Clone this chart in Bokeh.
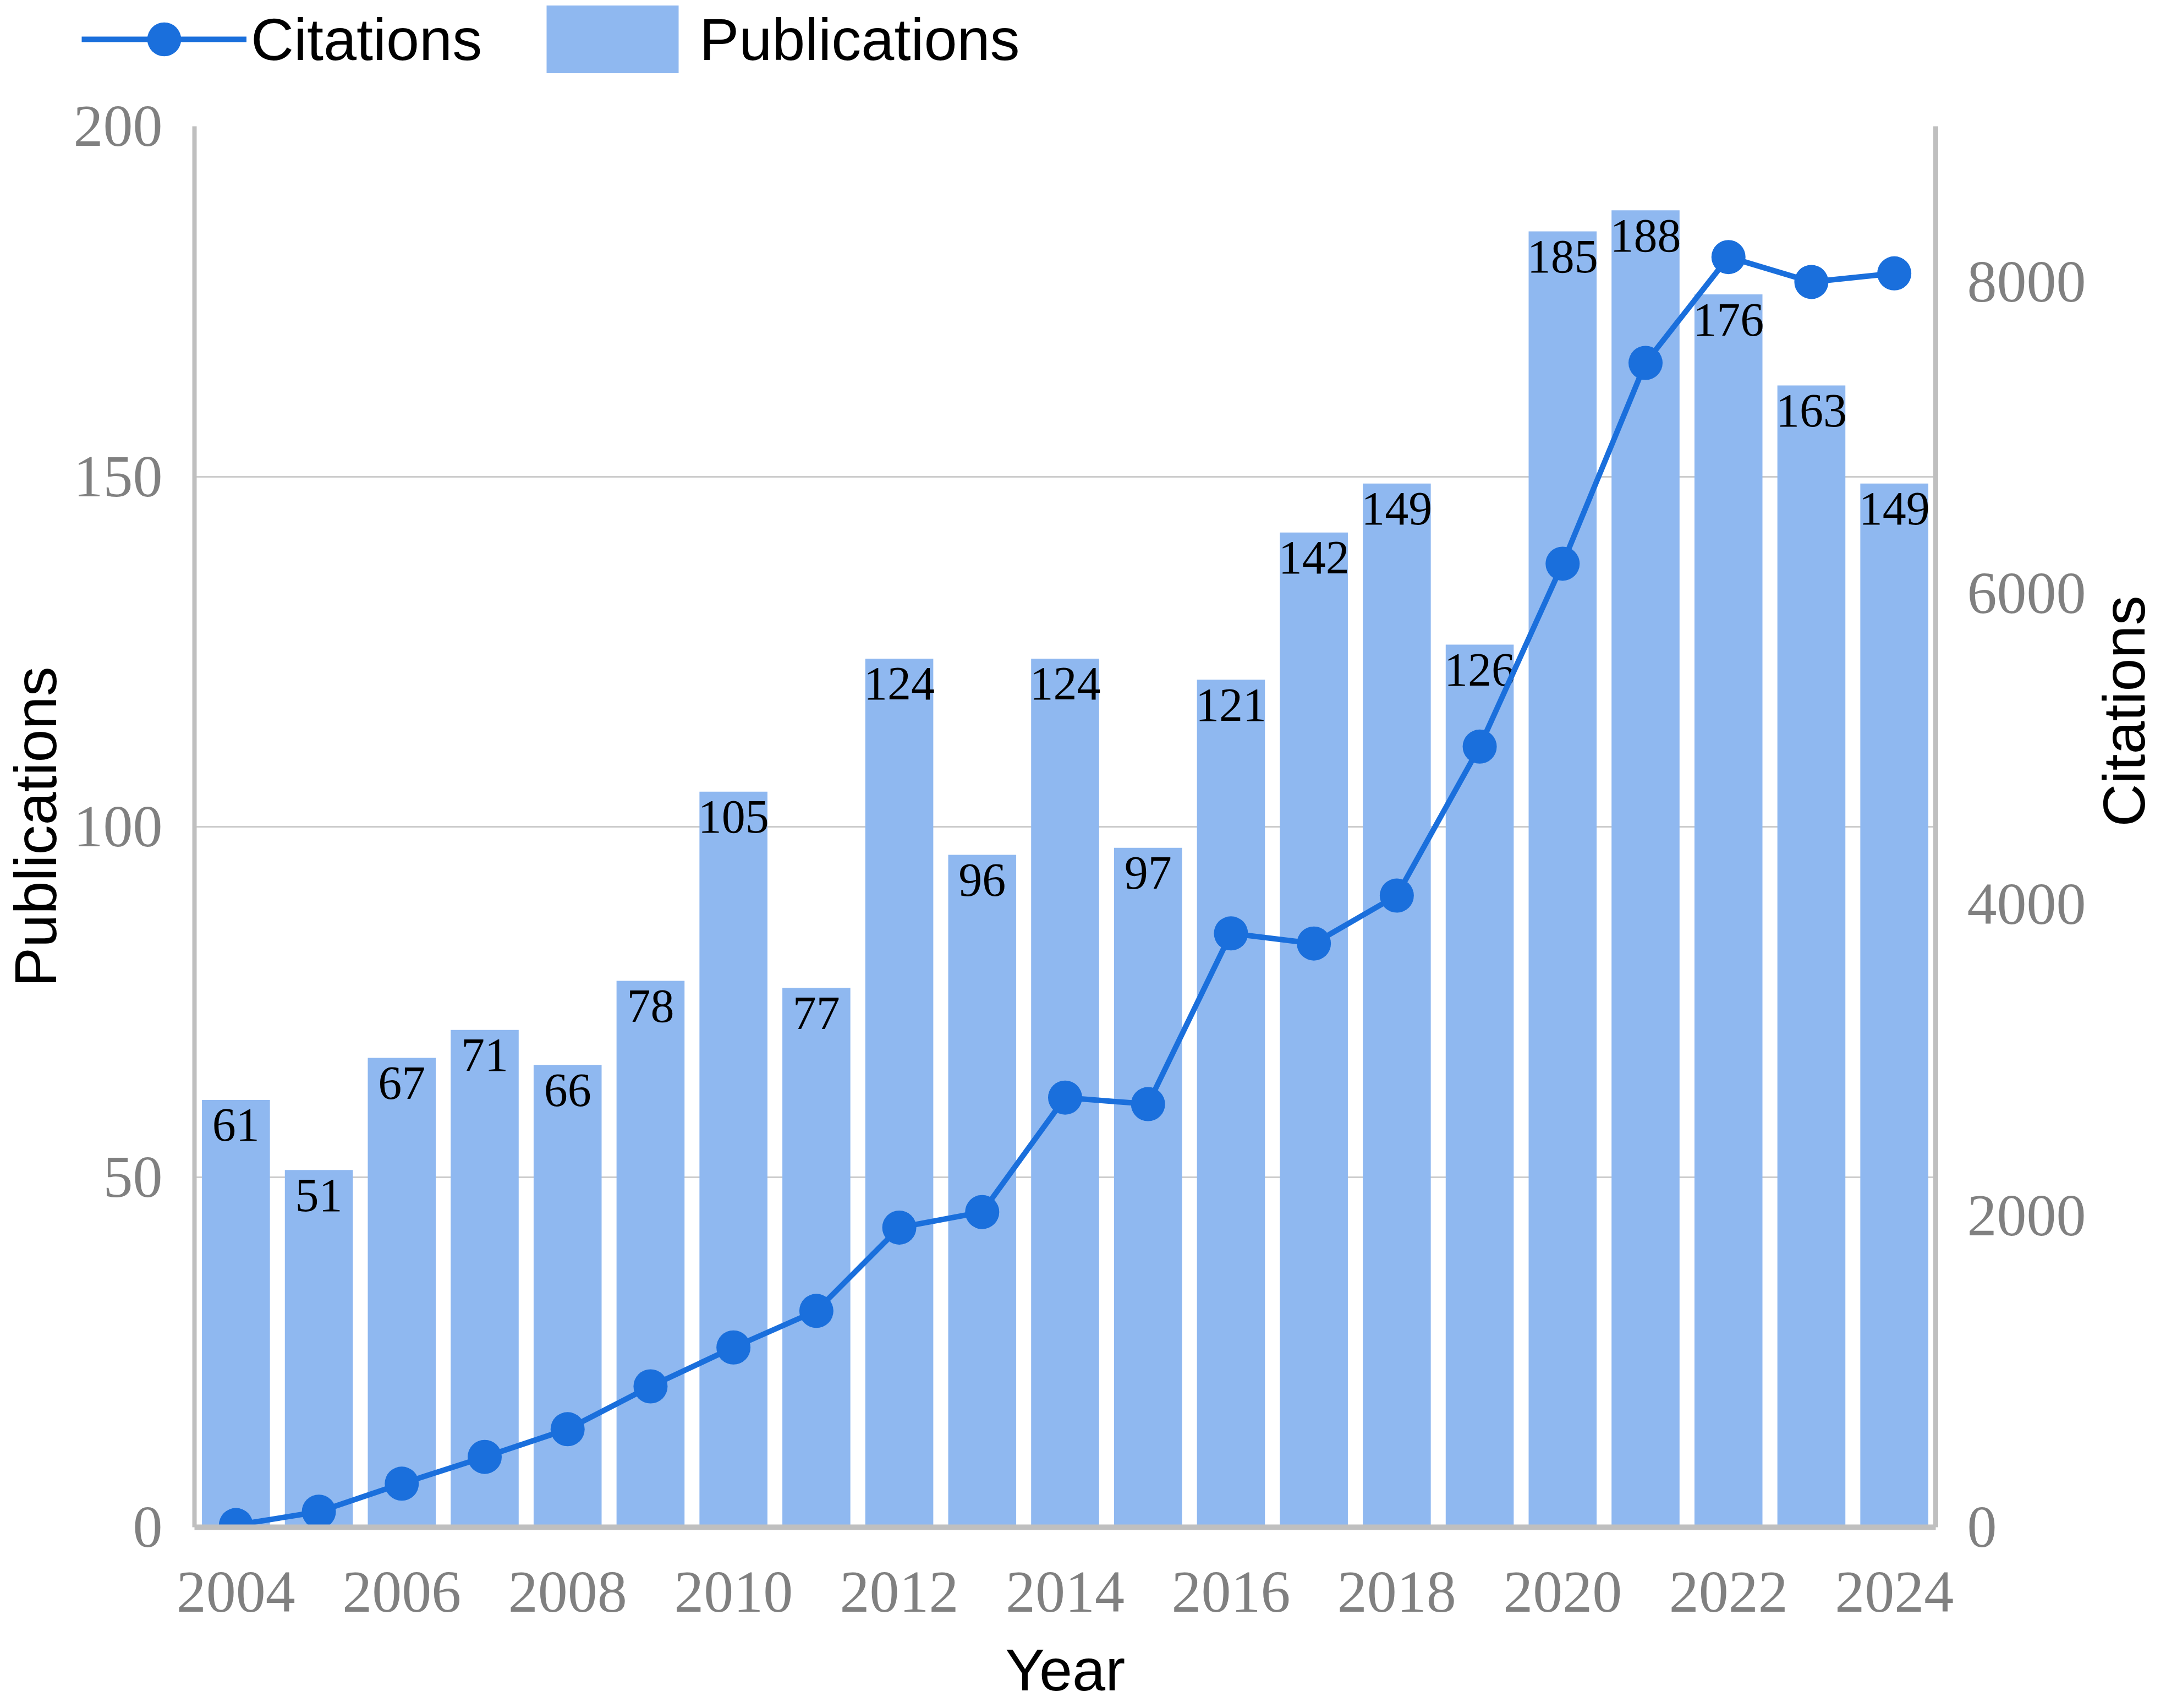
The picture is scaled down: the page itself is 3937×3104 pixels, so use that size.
import math
from bokeh.plotting import figure
from bokeh.models import (Range1d, LinearAxis, FixedTicker, Legend, LegendItem, ColumnDataSource)
from bokeh.embed import file_html
from bokeh.resources import INLINE

years = list(range(2004, 2025))
publications = [61, 51, 67, 71, 66, 78, 105, 77, 124, 96, 124, 97, 121, 142, 149, 126, 185, 188, 176, 163, 149]
citations = [14, 100, 280, 452, 630, 905, 1155, 1390, 1925, 2025, 2760, 2718, 3815, 3750, 4058, 5015, 6190, 7480, 8160, 8000, 8055]
x_ticks = list(range(2004, 2025, 2))
left_ticks = [0, 50, 100, 150, 200]
right_ticks = [0, 2000, 4000, 6000, 8000]

BAR = "#8fb8f0"
LINE = "#1a6fdc"
AXIS = "#bfbfbf"
TICK = "#808080"
SERIF = "Liberation Serif"
SANS = "Liberation Sans"

W = 3921
TOP_H = 150

src = ColumnDataSource(dict(year=years, pub=publications, cit=citations,
                            lab=[str(v) for v in publications]))

# ---------- legend strip (separate root, its frame covers the whole strip) ----------
top = figure(width=W, height=TOP_H, min_border=0, x_range=Range1d(0, 1), y_range=Range1d(0, 1),
             x_axis_type=None, y_axis_type=None, output_backend="svg",
             toolbar_location=None, tools="")
top.outline_line_color = None
top.xgrid.visible = False
top.ygrid.visible = False
# same series as the chart; they fall outside this strip's ranges, only their legend swatches show
l_ln = top.line(x="year", y="cit", source=src, line_color=LINE, line_width=10)
l_cr = top.scatter(x="year", y="cit", source=src, size=64, fill_color=LINE, line_color=None)
l_bar = top.vbar(x="year", top="pub", bottom="pub", width=0.8, source=src, fill_color=BAR, line_color=None)
legend = Legend(items=[LegendItem(label="Citations", renderers=[l_ln, l_cr]),
                       LegendItem(label="Publications", renderers=[l_bar])],
                orientation="horizontal", location=(148, 2),
                glyph_width=300, glyph_height=154, label_standoff=8, spacing=87,
                padding=0, margin=0, border_line_color=None, background_fill_alpha=0,
                label_text_font=SANS, label_text_font_size="108px", label_text_color="black")
top.add_layout(legend)

# ---------- main chart ----------
p = figure(width=W, height=3088 - TOP_H, frame_width=3165, frame_height=2546,
           min_border_left=348, min_border_right=408, min_border_top=229 - TOP_H,
           min_border_bottom=313,
           x_range=Range1d(2003.5, 2024.5), y_range=Range1d(0, 200),
           output_backend="svg", toolbar_location=None, tools="")
p.extra_y_ranges = {"cit": Range1d(0, 9000)}
p.outline_line_color = None
p.background_fill_color = "white"
p.border_fill_color = "white"

bars = p.vbar(x="year", top="pub", width=0.82, source=src, fill_color=BAR, line_color=None)
p.text(x="year", y="pub", text="lab", source=src, text_align="center", text_baseline="middle",
       y_offset=46, text_font={"value": SERIF}, text_font_size="86px", text_color="black")
ln = p.line(x="year", y="cit", source=src, y_range_name="cit", line_color=LINE, line_width=10)
cr = p.scatter(x="year", y="cit", source=src, y_range_name="cit", size=62,
               fill_color=LINE, line_color=None)

ax_l = p.yaxis[0]
ax_b = p.xaxis[0]
ax_b.ticker = FixedTicker(ticks=x_ticks)
ax_l.ticker = FixedTicker(ticks=left_ticks)
ax_r = LinearAxis(y_range_name="cit", ticker=FixedTicker(ticks=right_ticks))
p.add_layout(ax_r, "right")

ax_b.axis_label = "Year"
ax_l.axis_label = "Publications"
ax_r.axis_label = "Citations"

for ax in (ax_l, ax_b, ax_r):
    ax.major_tick_line_color = None
    ax.minor_tick_line_color = None
    ax.major_tick_out = 0
    ax.major_tick_in = 0
    ax.axis_line_color = AXIS
    ax.major_label_text_font = SERIF
    ax.major_label_text_font_size = "108px"
    ax.major_label_text_color = TICK
    ax.axis_label_text_font = SANS
    ax.axis_label_text_font_size = "108px"
    ax.axis_label_text_font_style = "normal"
    ax.axis_label_text_color = "black"

ax_b.axis_line_width = 10
ax_b.major_label_standoff = 82
ax_b.axis_label_standoff = 42
ax_l.axis_line_width = 8
ax_l.major_label_standoff = 58
ax_l.axis_label_standoff = 6
ax_r.axis_line_width = 9
ax_r.major_label_standoff = 57
ax_r.axis_label_standoff = 66
try:
    ax_r.axis_label_orientation = math.pi / 2
except Exception:
    pass

p.xgrid.grid_line_color = None
p.ygrid.ticker = FixedTicker(ticks=[50, 100, 150])
p.ygrid.grid_line_color = "#cccccc"
p.ygrid.grid_line_width = 3

open("out.html", "w").write(file_html([top, p], INLINE))
